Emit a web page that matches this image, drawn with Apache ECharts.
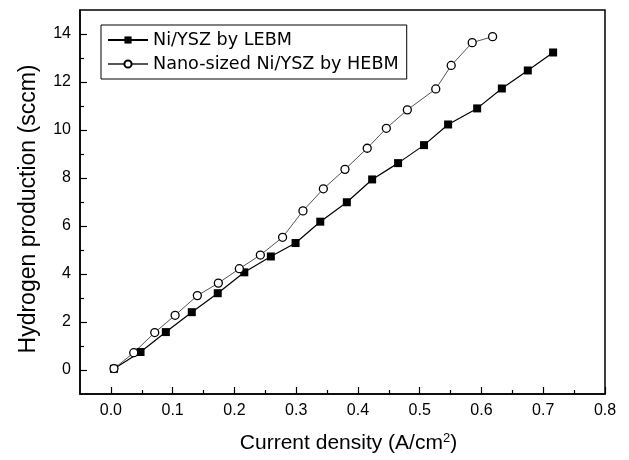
<!DOCTYPE html>
<html lang="en">
<head>
    <meta charset="UTF-8">
    <script src="https://cdn.jsdelivr.net/npm/echarts@6/dist/echarts.min.js"></script>
    <title>Hydrogen production vs current density</title>
    <style>
        body { margin: 0; background-color: #ffffff; }
        #chart { width: 629px; height: 460px; }
    </style>
</head>
<body>
    <div id="chart"></div>
    <script>
        var lebmName = 'Ni/YSZ by LEBM';
        var hebmName = 'Nano-sized Ni/YSZ by HEBM';

        var lebmX = [0.005, 0.048, 0.089, 0.131, 0.173, 0.216, 0.259, 0.299, 0.339, 0.382, 0.423, 0.465, 0.507, 0.546, 0.593, 0.633, 0.675, 0.716];
        var lebmY = [0.05, 0.75, 1.58, 2.41, 3.2, 4.07, 4.73, 5.29, 6.18, 6.99, 7.94, 8.62, 9.37, 10.23, 10.9, 11.73, 12.48, 13.23];

        var hebmX = [0.005, 0.037, 0.071, 0.104, 0.14, 0.174, 0.208, 0.242, 0.278, 0.311, 0.344, 0.379, 0.415, 0.446, 0.48, 0.526, 0.551, 0.585, 0.618];
        var hebmY = [0.06, 0.72, 1.56, 2.28, 3.1, 3.62, 4.22, 4.79, 5.53, 6.63, 7.55, 8.36, 9.24, 10.07, 10.84, 11.71, 12.69, 13.64, 13.89];

        var xMajorTicks = [0, 0.1, 0.2, 0.3, 0.4, 0.5, 0.6, 0.7, 0.8];
        var xMinorTicks = [0.05, 0.15, 0.25, 0.35, 0.45, 0.55, 0.65, 0.75];
        var yMajorTicks = [0, 2, 4, 6, 8, 10, 12, 14];
        var yMinorTicks = [1, 3, 5, 7, 9, 11, 13];

        function pairs(xs, ys) {
            return xs.map((x, i) => [x, ys[i]]);
        }

        var chart = echarts.init(document.getElementById('chart'));
        var font = 'Liberation Sans, Arial, sans-serif';

        // second axis on the same side, only for the short in-between ticks
        function minorAxis(min, max, ticks, pos) {
            return {
                type: 'value', min: min, max: max, position: pos,
                axisLine: { show: false, onZero: false },
                axisTick: { inside: true, length: 4, customValues: ticks, lineStyle: { color: '#000', width: 1.2 } },
                axisLabel: { show: false },
                splitLine: { show: false }
            };
        }

        var option = {
            backgroundColor: '#ffffff',
            animation: false,
            grid: {
                left: 80, right: 24, top: 10, bottom: 66,
                show: true, borderColor: '#000', borderWidth: 1.5
            },
            legend: {
                orient: 'vertical',
                left: 101, top: 25,
                padding: [6, 8, 6, 6],
                itemGap: 6,
                itemWidth: 40, itemHeight: 9,
                borderColor: '#000', borderWidth: 1,
                backgroundColor: '#fff',
                textStyle: { fontFamily: 'DejaVu Sans', fontSize: 17.6, color: '#000' },
                data: [lebmName, hebmName]
            },
            xAxis: [{
                type: 'value', min: -0.05, max: 0.8, position: 'bottom',
                name: 'Current density (A/cm{sup|2})',
                nameLocation: 'middle', nameGap: 38,
                nameTextStyle: {
                    fontFamily: font, fontSize: 21, color: '#000',
                    padding: [0, 0, 0, 12],
                    rich: { sup: { fontFamily: font, fontSize: 13, verticalAlign: 'top', padding: [0, 0, 10, 0] } }
                },
                axisLine: { onZero: false, lineStyle: { color: '#000', width: 1.5 } },
                axisTick: { inside: true, length: 7, customValues: xMajorTicks, lineStyle: { color: '#000', width: 1.2 } },
                axisLabel: {
                    customValues: xMajorTicks, margin: 9,
                    fontFamily: font, fontSize: 16, color: '#000',
                    formatter: v => v.toFixed(1)
                },
                splitLine: { show: false }
            }, minorAxis(-0.05, 0.8, xMinorTicks, 'bottom')],
            yAxis: [{
                type: 'value', min: -1, max: 15, position: 'left',
                name: 'Hydrogen production (sccm)',
                nameLocation: 'middle', nameGap: 40,
                nameTextStyle: { fontFamily: font, fontSize: 23, color: '#000', padding: [0, 14, 0, 0] },
                axisLine: { onZero: false, lineStyle: { color: '#000', width: 1.5 } },
                axisTick: { inside: true, length: 7, customValues: yMajorTicks, lineStyle: { color: '#000', width: 1.2 } },
                axisLabel: {
                    customValues: yMajorTicks, margin: 9,
                    fontFamily: font, fontSize: 16, color: '#000'
                },
                splitLine: { show: false }
            }, minorAxis(-1, 15, yMinorTicks, 'left')],
            series: [{
                name: lebmName,
                type: 'line',
                data: pairs(lebmX, lebmY),
                symbol: 'rect', symbolSize: 8,
                itemStyle: { color: '#000' },
                lineStyle: { color: '#000', width: 1.2 }
            }, {
                name: hebmName,
                type: 'line',
                data: pairs(hebmX, hebmY),
                symbol: 'circle', symbolSize: 8,
                itemStyle: { color: '#fff', borderColor: '#000', borderWidth: 1.3 },
                lineStyle: { color: '#555', width: 1 }
            }]
        };

        chart.setOption(option);
    </script>
</body>
</html>
